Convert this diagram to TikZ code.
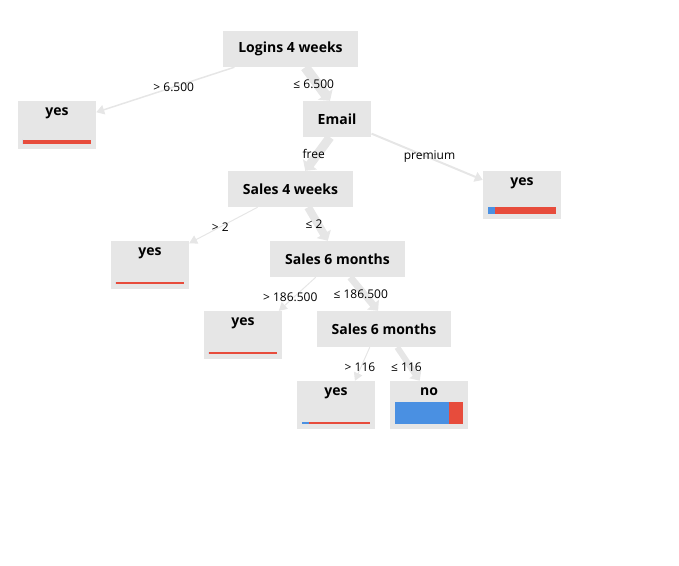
\documentclass[tikz,border=0pt]{standalone}
\usepackage{fontspec}
\setmainfont{Open Sans}
\usetikzlibrary{positioning, calc, arrows.meta}
\definecolor{boxgray}{HTML}{E6E6E6}
\definecolor{edgegray}{HTML}{E6E6E6}
\definecolor{barblue}{HTML}{4A90E2}
\definecolor{barred}{HTML}{E74C3C}
% class bar at the bottom of a leaf: leaf, blue part, red part, height
\newcommand{\classbar}[4]{
\fill[barblue] ($(#1.south west)+(5,-5)$) rectangle ++(#2,-#4);
\fill[barred] ($(#1.south west)+(5+#2,-5)$) rectangle ++(#3,-#4);
}

\begin{document}
\begin{tikzpicture}[x=1pt, y=-1pt,
					split/.style = {rectangle, fill=boxgray, minimum height=36pt, inner xsep=15pt, inner ysep=0pt, font=\fontsize{14}{16}\selectfont\bfseries},
					leaf/.style = {rectangle, fill=boxgray, minimum width=78pt, inner xsep=0pt, inner ysep=0pt, text height=14pt, text depth=34pt, font=\fontsize{14}{16}\selectfont\bfseries},
					edge/.style = {draw=edgegray, line width=#1, -{Triangle[length=8pt 0, width=8pt 1]}},
					cond/.style = {font=\fontsize{12}{14}\selectfont, inner sep=1pt},
				]
				\useasboundingbox (0,0) rectangle (679,565);
				\node[split](logins) at (290.5,49){Logins 4 weeks};
				\node[leaf](yesA) at (57,125){yes};
				\node[split](email) at (337,119){Email};
				\node[leaf](yesB) at (522,195){yes};
				\node[split](salesW) at (290.5,189){Sales 4 weeks};
				\node[leaf](yesC) at (150,265){yes};
				\node[split](salesM) at (337.5,259){Sales 6 months};
				\node[leaf](yesD) at (243,335){yes};
				\node[split](salesMM) at (384,329){Sales 6 months};
				\node[leaf](yesE) at (336,405){yes};
				\node[leaf](no) at (429,405){no};

				% condition labels sit half way between the two boxes
				\draw[edge=1.5pt](logins.198)--(yesA.18) node[cond, at={($(logins)!0.5!(yesA)$)}]{> 6.500};
				\draw[edge=10pt](logins.309)--(email.111) node[cond, at={($(logins)!0.5!(email)$)}]{≤ 6.500};
				\draw[edge=2pt](email.337)--(yesB.159) node[cond, at={($(email)!0.5!(yesB)$)}]{premium};
				\draw[edge=9pt](email.249)--(salesW.51) node[cond, at={($(email)!0.5!(salesW)$)}]{free};
				\draw[edge=1pt](salesW.209)--(yesC.29) node[cond, at={($(salesW)!0.5!(yesC)$)}]{> 2};
				\draw[edge=8pt](salesW.314)--(salesM.118) node[cond, at={($(salesW)!0.5!(salesM)$)}]{≤ 2};
				\draw[edge=1pt](salesM.220)--(yesD.34) node[cond, at={($(salesM)!0.5!(yesD)$)}]{> 186.500};
				\draw[edge=7pt](salesM.305)--(salesMM.108) node[cond, at={($(salesM)!0.5!(salesMM)$)}]{≤ 186.500};
				\draw[edge=1pt](salesMM.232)--(yesE.52) node[cond, at={($(salesMM)!0.5!(yesE)$)}]{> 116};
				\draw[edge=6pt](salesMM.306)--(no.111) node[cond, at={($(salesMM)!0.5!(no)$)}]{≤ 116};

				\classbar{yesA}{0}{68}{4.5}
				\classbar{yesB}{7}{61}{7}
				\classbar{yesC}{0}{68}{2}
				\classbar{yesD}{0}{68}{2}
				\classbar{yesE}{7}{61}{2}
				\classbar{no}{54}{14}{22}
			\end{tikzpicture}
\end{document}
